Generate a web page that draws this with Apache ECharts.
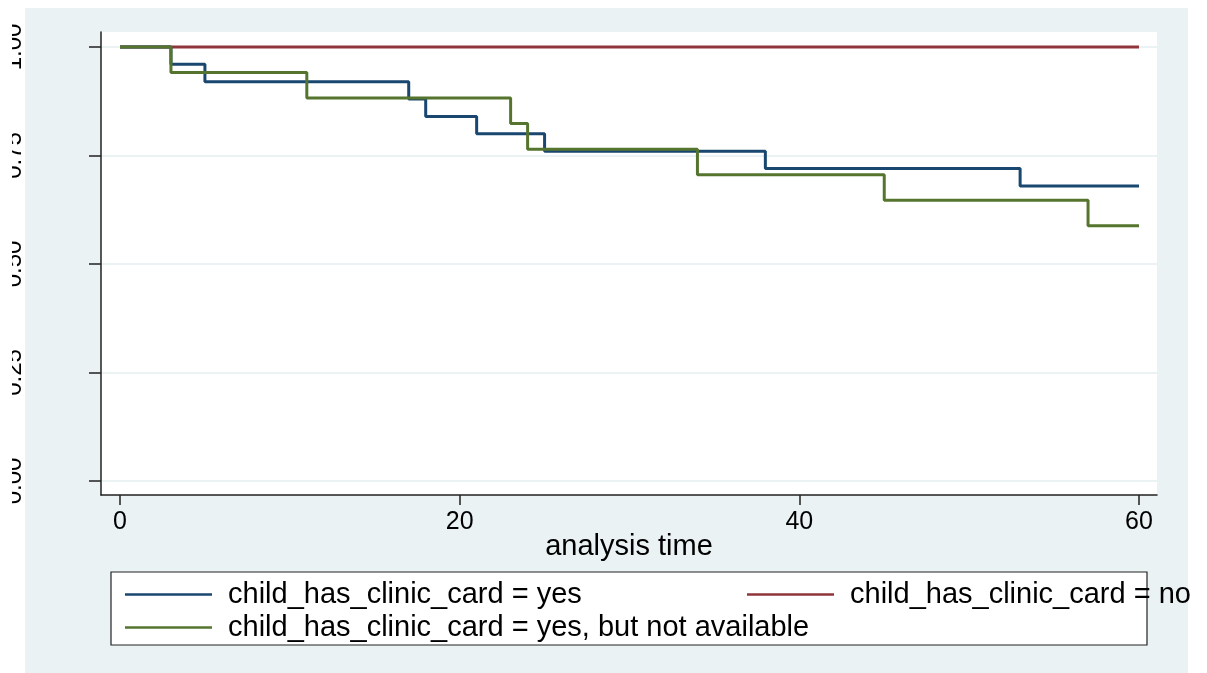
<!DOCTYPE html>
<html>
<head>
<meta charset="utf-8">
<script src="https://cdn.jsdelivr.net/npm/echarts@6/dist/echarts.min.js"></script>
<style>
  html, body { margin: 0; padding: 0; background: #ffffff; overflow: hidden; width: 1207px; height: 673px; }
  /* the chart canvas begins a little in from the page edge; the rotated y labels are cut at its left edge */
  #chart { position: absolute; left: 12px; top: 0; width: 1195px; height: 673px; }
</style>
</head>
<body>
<div id="chart"></div>
<script>
// Kaplan-Meier survival estimates by clinic card status
const seriesNames = [
  'child_has_clinic_card = yes',
  'child_has_clinic_card = no',
  'child_has_clinic_card = yes, but not available'
];
const yesTime = [0, 3, 5, 17, 18, 21, 25, 38, 53, 60];
const yesSurv = [1, 0.96, 0.92, 0.88, 0.84, 0.80, 0.76, 0.72, 0.68, 0.68];
const noTime = [0, 60];
const noSurv = [1, 1];
const naTime = [0, 3, 11, 23, 24, 34, 45, 57, 60];
const naSurv = [1, 0.9412, 0.8824, 0.8235, 0.7647, 0.7059, 0.6471, 0.5882, 0.5882];
const xTicks = [0, 20, 40, 60];
const yTicks = [0, 0.25, 0.5, 0.75, 1];
const xTitle = 'analysis time';

const colors = ['#1a476f', '#90353b', '#55752f'];
const FONT = '"Liberation Sans", Arial, sans-serif';

function pairs(t, s) { return t.map((v, i) => [v, s[i]]); }

const chart = echarts.init(document.getElementById('chart'), null, { renderer: 'canvas' });

function legendFor(name, left, top) {
  return {
    data: [name], left: left, top: top, padding: 0,
    icon: 'rect', itemWidth: 87, itemHeight: 2.5, selectedMode: false, z: 5,
    textStyle: { fontFamily: FONT, fontSize: 29, color: '#000', padding: [0, 0, 0, 11] }
  };
}

const option = {
  animation: false,
  backgroundColor: 'transparent',
  color: colors,
  graphic: [
    { type: 'rect', z: -100, shape: { x: 13, y: 8, width: 1163, height: 665 }, style: { fill: '#eaf2f3' } },
    { type: 'rect', z: 1, shape: { x: 99, y: 572, width: 1036, height: 73 }, style: { fill: '#ffffff', stroke: '#222', lineWidth: 1.2 } }
  ],
  grid: {
    left: 89, right: 50, top: 32, bottom: 178,
    outerBoundsMode: 'none', containLabel: false,
    show: true, backgroundColor: '#ffffff', borderWidth: 0
  },
  legend: [
    legendFor(seriesNames[0], 113, 580),
    legendFor(seriesNames[1], 735, 580),
    legendFor(seriesNames[2], 113, 613)
  ],
  xAxis: {
    type: 'value', min: -1.119, max: 61.06,
    name: xTitle, nameLocation: 'middle', nameGap: 37, nameMoveOverlap: false,
    nameTextStyle: { fontFamily: FONT, fontSize: 29, color: '#000' },
    axisLine: { show: true, onZero: false, lineStyle: { color: '#222', width: 1.5 } },
    axisTick: { show: true, length: 10, customValues: xTicks, lineStyle: { color: '#222', width: 1.5 } },
    axisLabel: { customValues: xTicks, margin: 15, fontFamily: FONT, fontSize: 25, color: '#000' },
    splitLine: { show: false }
  },
  yAxis: {
    type: 'value', min: -0.0323, max: 1.0346,
    axisLine: { show: true, onZero: false, lineStyle: { color: '#222', width: 1.5 } },
    axisTick: { show: true, length: 12, customValues: yTicks, lineStyle: { color: '#222', width: 1.5 } },
    axisLabel: {
      customValues: yTicks, rotate: 90, margin: 75,
      fontFamily: FONT, fontSize: 24, color: '#000',
      formatter: v => v.toFixed(2)
    },
    splitLine: { show: true, lineStyle: { color: '#eaf2f3', width: 2 } }
  },
  series: [
    { name: seriesNames[0], type: 'line', step: 'end', symbol: 'none', data: pairs(yesTime, yesSurv), lineStyle: { width: 3, color: colors[0] }, z: 3 },
    { name: seriesNames[1], type: 'line', step: 'end', symbol: 'none', data: pairs(noTime, noSurv), lineStyle: { width: 3, color: colors[1] }, z: 2 },
    { name: seriesNames[2], type: 'line', step: 'end', symbol: 'none', data: pairs(naTime, naSurv), lineStyle: { width: 3, color: colors[2] }, z: 4 }
  ]
};

chart.setOption(option);
</script>
</body>
</html>
